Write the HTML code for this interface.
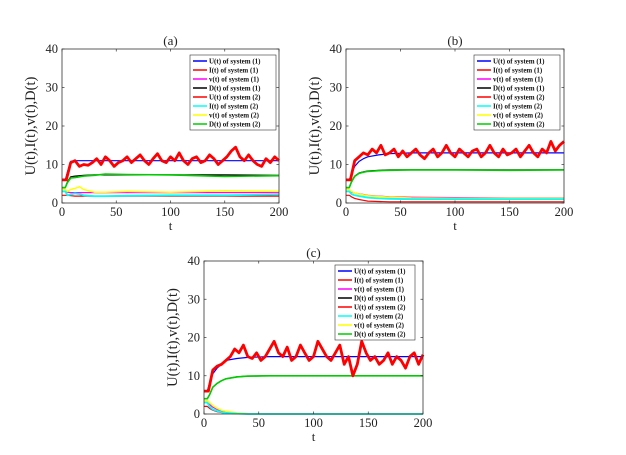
<!DOCTYPE html>
<html><head><meta charset="utf-8"><style>
body{margin:0;background:#fff}
svg{display:block;font-family:"Liberation Serif",serif}
</style></head><body>
<svg id="fig" width="626" height="455" viewBox="0 0 626 455"></svg>
<script>
// time grids
const tNoise = Array.from({length:51},(_,i)=>i*4);
const tSmooth = [0,3,5,8,12,16,20,30,40,60,100,150,200];
// panel a
const aU2 = [6,6,10.5,11,9.5,10,9.8,10.5,11.5,10,12,11,9.5,10.5,11,12,10.5,11.5,12.5,11,10,11.5,12.8,11,10.5,12,11,13,11,10,11.5,12,10.5,11,12.5,11.5,10,11,12,13.5,14.5,12,11,12.5,11,10,9.5,11.5,10.5,12,11];
const aU1 = [6,6,8,10.8,11,11,11,11,11,11,11,11,11];
const aD1 = [4,4,5.5,6.8,7,7.1,7.2,7.3,7.3,7.3,7.3,7.3,7.2];
const aD2 = [4,4,5.3,6.5,6.6,6.8,7,7.2,7.5,7.4,7.3,6.9,7.1];
const aV1 = [3,3,2.8,2.7,2.7,2.7,2.7,2.7,2.7,2.7,2.7,2.7,2.7];
const aI1 = [2,2,2,1.9,1.8,1.8,1.8,1.8,1.8,1.8,1.8,1.8,1.8];
const aI2 = [3,3,2,2.2,2.5,2.3,2,1.8,1.8,1.9,2,2,2.2];
const aV2 = [3.5,3.5,3,3.5,3.8,4.2,3.5,2.8,2.8,3,2.8,3.2,3];
// panel b
const bU2 = [6,6,11,12,13,12.5,14,13,15,12.5,13,14,12,13.5,12,13,14,12.5,11.5,13,14,12,13,15,13,12,14,13,12,13.5,14,12,13,15,13,12,14,12.5,13,14,12,13.5,15,13,12,14,13,16,13.5,15,16];
const bU1 = [6,6,7.5,9.5,10.8,11.5,12,12.5,12.8,13,13,13,13];
const bD1 = [4,4,5.5,7,7.8,8.1,8.3,8.5,8.6,8.6,8.6,8.6,8.6];
const bD2 = [4,4,5.4,6.9,7.7,8,8.2,8.4,8.5,8.6,8.6,8.5,8.6];
const bV1 = [3,3,2.8,2.6,2.4,2.2,2,1.8,1.6,1.5,1.4,1.3,1.3];
const bI1 = [2,2,1.6,1.2,0.9,0.7,0.5,0.4,0.3,0.3,0.3,0.3,0.3];
const bI2 = [3,3,2.3,2,1.8,1.6,1.4,1.2,1.1,1,1,1,1];
const bV2 = [3.5,3.5,3,2.6,2.3,2.1,1.9,1.7,1.5,1.3,1.2,1.2,1.2];
// panel c
const cU2 = [6,6,11.5,12.5,13,14,15,17,16,18,15,14.5,16,14,15,17,19,16,15,17.5,14,15,18,16,14,15,19,17,15,14,16,18,13,15,10,13,19,16,14,15,13,14,16,13,15,14,12,15,16,13,15.5];
const cU1 = [6,6,8,10.5,12,13,14,14.5,14.8,15,15,15,15];
const cD1 = [4,4,5,7,8,8.7,9.2,9.7,9.9,10,10,10,10];
const cD2 = [4,4,5,7,8,8.7,9.2,9.7,9.9,10,10,10,10];
const cV1 = [3,3,2.5,1.8,1.2,0.8,0.5,0.2,0.1,0,0,0,0];
const cI1 = [2,2,1.5,1,0.6,0.4,0.2,0.1,0,0,0,0,0];
const cI2 = [3,3,2,1.2,0.8,0.5,0.3,0.1,0,0,0,0,0];
const cV2 = [3.5,3.5,3,2.2,1.5,1,0.7,0.3,0.1,0,0,0,0];
const xTicks = [0,50,100,150,200];
const yTicks = [0,10,20,30,40];
const legendLabels = ["U(t) of system (1)","I(t) of system (1)","v(t) of system (1)","D(t) of system (1)","U(t) of system (2)","I(t) of system (2)","v(t) of system (2)","D(t) of system (2)"];
const legendColors = ["#0000ff","#ff0000","#ff00ff","#000000","#ff0000","#00ffff","#ffff00","#00cc00"];

const NS="http://www.w3.org/2000/svg";
const svg=document.getElementById('fig');
function mk(tag,attrs,parent){const e=document.createElementNS(NS,tag);for(const k in attrs)e.setAttribute(k,attrs[k]);(parent||svg).appendChild(e);return e;}

const panels=[
 {id:'a',x0:62,x1:279,y0:49,y1:203,lx:190,ly:55,lw:86,lh:75,U2:aU2,U1:aU1,D1:aD1,D2:aD2,V1:aV1,I1:aI1,I2:aI2,V2:aV2},
 {id:'b',x0:346,x1:564,y0:49,y1:203,lx:474,ly:55,lw:86,lh:75,U2:bU2,U1:bU1,D1:bD1,D2:bD2,V1:bV1,I1:bI1,I2:bI2,V2:bV2},
 {id:'c',x0:204,x1:423,y0:261,y1:414,lx:335,ly:265,lw:80,lh:75,U2:cU2,U1:cU1,D1:cD1,D2:cD2,V1:cV1,I1:cI1,I2:cI2,V2:cV2}
];

panels.forEach(p=>{
  const g=mk('g',{});
  
  
  const sx=t=>p.x0+(t/200)*(p.x1-p.x0);
  const sy=v=>p.y1-(v/40)*(p.y1-p.y0);
  const line=(ts,vs,color,w,name)=>{
    const d=ts.map((t,i)=>(i?'L':'M')+sx(t).toFixed(1)+','+sy(vs[i]).toFixed(1)).join('');
    const e=mk('path',{d:d,fill:'none',stroke:color,'stroke-width':w,'stroke-linejoin':'round'},g);
    
    
  };
  line(tSmooth,p.I1,'#ff0000',1.2,'i1-line');
  line(tSmooth,p.V1,'#ff00ff',1.2,'v1-line');
  line(tSmooth,p.V2,'#ffff00',1.5,'v2-line');
  line(tSmooth,p.I2,'#00ffff',1.8,'i2-line');
  line(tSmooth,p.D1,'#000000',1.2,'d1-line');
  line(tSmooth,p.D2,'#00cc00',1.6,'d2-line');
  line(tSmooth,p.U1,'#0000ff',1.2,'u1-line');
  line(tNoise,p.U2,'#ff0000',2.8,'u2-line');
  const ax=mk('rect',{x:p.x0,y:p.y0,width:p.x1-p.x0,height:p.y1-p.y0,fill:'none',stroke:'#333','stroke-width':0.8},g);
  
  
  xTicks.forEach(t=>{
    mk('line',{x1:sx(t),x2:sx(t),y1:p.y1,y2:p.y1-2.5,stroke:'#333','stroke-width':0.7},g);
    mk('line',{x1:sx(t),x2:sx(t),y1:p.y0,y2:p.y0+2.5,stroke:'#333','stroke-width':0.7},g);
    const tx=mk('text',{x:sx(t),y:p.y1+13,'text-anchor':'middle','font-size':12.5,fill:'#222'},g);
    tx.textContent=t;
    
    
  });
  yTicks.forEach(v=>{
    mk('line',{x1:p.x0,x2:p.x0+2.5,y1:sy(v),y2:sy(v),stroke:'#333','stroke-width':0.7},g);
    mk('line',{x1:p.x1,x2:p.x1-2.5,y1:sy(v),y2:sy(v),stroke:'#333','stroke-width':0.7},g);
    const tx=mk('text',{x:p.x0-4,y:sy(v)+4,'text-anchor':'end','font-size':12.5,fill:'#222'},g);
    tx.textContent=v;
    
    
  });
  const ti=mk('text',{x:(p.x0+p.x1)/2,y:p.y0-4,'text-anchor':'middle','font-size':13,fill:'#222'},g);
  ti.textContent='('+p.id+')';
  
  
  const xl=mk('text',{x:(p.x0+p.x1)/2,y:p.y1+27,'text-anchor':'middle','font-size':13,fill:'#222'},g);
  xl.textContent='t';
  
  
  const yl=mk('text',{x:0,y:0,'text-anchor':'middle','font-size':14.5,fill:'#222',transform:`translate(${p.x0-27},${(p.y0+p.y1)/2}) rotate(-90)`},g);
  yl.textContent='U(t),I(t),v(t),D(t)';
  
  
  const lg=mk('g',{},g);
  
  
  mk('rect',{x:p.lx,y:p.ly,width:p.lw,height:p.lh,fill:'#fff',stroke:'#333','stroke-width':0.6},lg);
  legendLabels.forEach((lab,i)=>{
    const yy=p.ly+6+i*9;
    mk('line',{x1:p.lx+3,x2:p.lx+17,y1:yy,y2:yy,stroke:legendColors[i],'stroke-width':1.5},lg);
    const lt=mk('text',{x:p.lx+19,y:yy+2.5,'font-size':7,'font-weight':'bold',fill:'#111'},lg);
    lt.textContent=lab;
    
    
  });
});
</script>
</body></html>
